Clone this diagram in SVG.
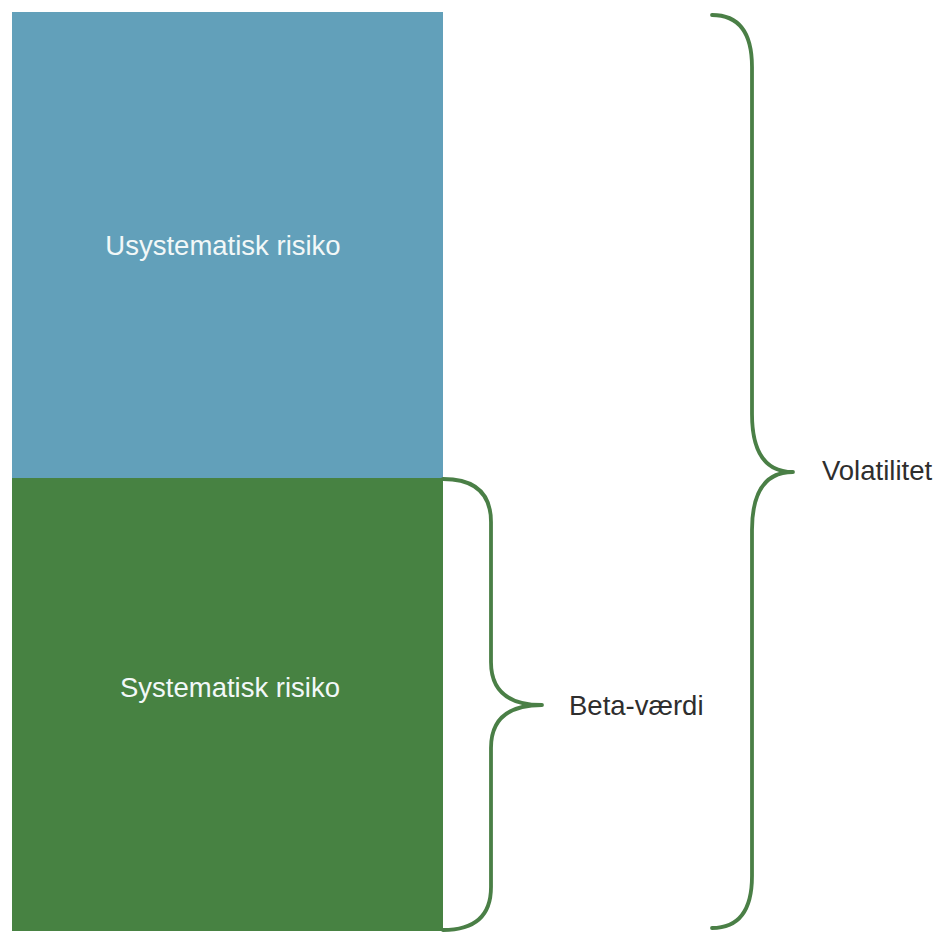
<svg xmlns="http://www.w3.org/2000/svg" width="945" height="933" viewBox="0 0 945 933">
<style>
.lbl{font-family:"Liberation Sans",Arial,sans-serif;font-size:27.5px}
.in{fill:#f2f8f8;text-anchor:middle}
.out{fill:#2e2e2e}
.brace{fill:none;stroke:#4a7f46;stroke-width:3.8;stroke-linecap:round;stroke-linejoin:round}
</style>
<rect width="945" height="933" fill="#ffffff"/>
<g id="usystematisk">
<rect x="12" y="12" width="431" height="466" fill="#62a0ba"/>
<text class="lbl in" x="223" y="255">Usystematisk risiko</text>
</g>
<g id="systematisk">
<rect x="12" y="478" width="431" height="453" fill="#478242"/>
<text class="lbl in" x="230" y="697">Systematisk risiko</text>
</g>
<g id="connectors">
<path class="brace" d="M443,479 Q491,479 491,522 L491,662 Q491,705 542,705 Q491,705 491,748 L491,887 Q491,930 443,930"/>
<path class="brace" d="M712,15 Q752,15 752,67 L752,414 Q752,472 793,472 Q752,472 752,530 L752,876 Q752,928 712,928"/>
</g>
<g id="beta">
<text class="lbl out" x="569" y="715">Beta-værdi</text>
</g>
<g id="volatilitet">
<text class="lbl out" x="822" y="480">Volatilitet</text>
</g>
</svg>
